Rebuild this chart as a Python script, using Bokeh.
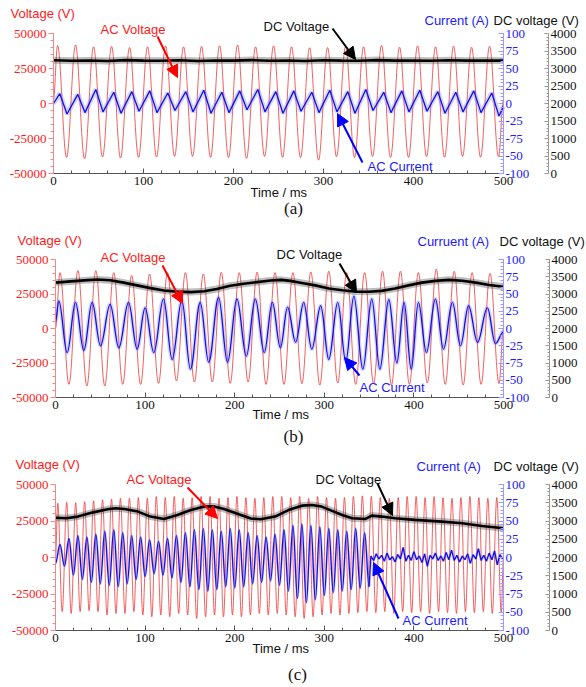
import numpy as np
from bokeh.plotting import figure
from bokeh.layouts import column
from bokeh.models import (Range1d, LinearAxis, SingleIntervalTicker,
                          Label, Arrow, NormalHead)
from bokeh.embed import file_html
from bokeh.resources import INLINE

# ------------------------------------------------------------------ data
# Tick positions / labels of the three vertical scales
volt_ticks = [-50000, -25000, 0, 25000, 50000]
volt_labels = ["-50000", "-25000", "0", "25000", "50000"]
cur_ticks = [-100, -75, -50, -25, 0, 25, 50, 75, 100]
cur_labels = ["-100", "-50", "-75", "-25", "0", "25", "50", "75", "100"]
dc_ticks = [0, 500, 1000, 1500, 2000, 2500, 3000, 3500, 4000]

# (a) AC voltage extrema (V), AC current extrema (A), DC link voltage (V)
a_v_pk_t = np.arange(4.5, 500, 20.0)
a_v_pk = [41400, 41800, 40500, 40800, 40000, 40500, 41200, 40500, 40800, 41200,
          41800, 40500, 41200, 40500, 39800, 40000, 40800, 40500, 41500, 40200,
          41200, 40500, 41000, 40200, 41000]
a_v_tr_t = np.arange(14.5, 500, 20.0)
a_v_tr = [-38500, -39500, -38200, -39000, -38500, -38300, -37800, -37800, -38500, -38600,
          -39200, -37800, -38500, -38700, -40500, -38000, -38600, -37900, -38500, -38600,
          -38000, -38400, -37900, -38400, -38000]
a_v_ends = [3000, 3000]
a_i_pk_t = np.arange(7.0, 500, 20.0)
a_i_pk = [14, 13, 20, 16, 17, 18, 15, 17, 19, 16, 18, 20, 17, 18, 16, 19, 17, 20, 16, 18,
          19, 17, 16, 18, 15]
a_i_tr_t = np.arange(15.0, 500, 20.0)
a_i_tr = [-15, -13, -12, -14, -11, -13, -10, -12, -14, -13, -9, -12, -14, -11, -13, -12,
          -14, -10, -13, -12, -11, -14, -12, -13, -18]
a_i_ends = [0, -4]
a_dc_t = np.arange(0, 501, 20.0)
a_dc = [3235, 3220, 3230, 3215, 3240, 3225, 3220, 3235, 3215, 3230, 3225, 3240, 3220,
        3230, 3215, 3235, 3225, 3220, 3240, 3225, 3230, 3220, 3235, 3225, 3230, 3225]

# (b)
b_v_pk_t = np.arange(5.0, 500, 20.0)
b_v_pk = [40500, 42000, 42000, 40500, 38500, 39500, 40500, 40500, 39500, 40800,
          40500, 40800, 40500, 40500, 41000, 41500, 40500, 40500, 41500, 41500,
          40500, 43000, 41500, 40500, 40000]
b_v_tr_t = np.arange(15.0, 500, 20.0)
b_v_tr = [-40500, -41700, -41700, -40500, -40500, -39800, -38000, -38800, -38800, -39800,
          -38800, -40500, -40500, -40000, -41000, -39500, -40500, -40000, -41000, -40500,
          -39500, -40500, -41000, -40500, -40000]
b_v_ends = [0, 0]
b_i_pk_t = [3.7, 22.3, 40.9, 61, 81.5, 100, 120.5, 141, 161.5, 182, 202.5, 223, 242,
            259, 277, 296, 315, 333, 353, 372, 389, 405, 424, 443, 461, 482]
b_i_pk = [40, 38, 38, 35, 38, 30, 43, 41, 38, 45, 43, 43, 38, 31, 38, 33, 38, 47, 43, 42,
          38, 38, 43, 38, 33, 30]
b_i_tr_t = [13, 31.6, 50.2, 70.7, 91.1, 109.7, 130.2, 150.6, 171, 192, 213, 233, 251,
            268, 286, 305, 324, 343, 362, 381, 397, 414, 433, 452, 471, 491]
b_i_tr = [-35, -32, -25, -28, -30, -35, -45, -59, -49, -49, -40, -35, -28, -20, -30, -45,
          -48, -59, -59, -50, -59, -35, -30, -25, -20, -22]
b_i_ends = [10, -5]
b_dc_t = [0, 17, 32, 47, 61, 76, 91, 106, 121, 136, 151, 166, 180, 195, 210, 225, 240,
          252, 262, 275, 290, 305, 320, 335, 350, 364, 379, 394, 409, 424, 439, 454, 469,
          484, 500]
b_dc = [3330, 3365, 3395, 3420, 3400, 3330, 3250, 3170, 3100, 3070, 3055, 3080, 3145,
        3240, 3295, 3345, 3390, 3410, 3380, 3320, 3250, 3160, 3110, 3070, 3065, 3090,
        3160, 3250, 3330, 3380, 3410, 3385, 3330, 3260, 3210]

# (c)
c_v_pk_t = np.arange(2.5, 500, 10.0)
c_v_pk = [37200, 37800, 37500, 38200, 38800, 39500, 40000, 40600, 40600, 41000,
          40600, 41800, 41000, 41800, 40600, 41000, 41800, 41800, 40600, 41000,
          41800, 41000, 40600, 41000, 41800, 41800, 41000, 41800, 40600, 41800,
          41000, 40600, 41000, 41800, 42200, 41800, 41000, 40600, 41000, 41800,
          41800, 41000, 41800, 41000, 40600, 41000, 41800, 41000, 40600, 41000]
c_v_tr_t = np.arange(7.5, 500, 10.0)
c_v_tr = [-37100, -38300, -37100, -36500, -37100, -39400, -38300, -38300, -37100, -39400,
          -40600, -39400, -40600, -38300, -39400, -41700, -40600, -39400, -40600, -39400,
          -40600, -39400, -38300, -39400, -38300, -39400, -40600, -41700, -40600, -39400,
          -38300, -39400, -38300, -37800, -37100, -37800, -37100, -38300, -37100, -37800,
          -37100, -38300, -37100, -37800, -38300, -37100, -37800, -37100, -38300, -37800]
c_v_ends = [0, 0]
c_i_pk_t = np.arange(5.0, 350, 10.0)
c_i_pk = [18, 26, 30, 28, 32, 36, 38, 34, 30, 28, 24, 22, 26, 30, 34, 38, 40, 38, 36, 40,
          38, 34, 30, 28, 32, 38, 44, 46, 44, 42, 40, 38, 36, 40, 34]
c_i_tr_t = np.arange(10.0, 351, 10.0)
c_i_tr = [-12, -24, -30, -34, -36, -38, -40, -36, -30, -26, -22, -24, -28, -34, -40, -44,
          -46, -44, -40, -42, -40, -36, -34, -32, -38, -46, -56, -62, -58, -52, -48, -46,
          -44, -42, -40]
c_i_ends = [-8, 0]
c_i_off_t = np.arange(352, 500, 3.0)
c_i_off = [2, -4, 5, -2, 3, -5, 6, -3, 1, -6, 4, -2, 14, -5, 3, -4, 8, -3, 2, -7, 5, -12,
           3, -2, 6, -4, 2, -5, 7, -3, 10, -4, 3, -6, 2, -3, 5, -8, 4, -2, 12, -4, 3, -5,
           6, -3, 9, -10, 4, -2]
c_dc_t = [0, 12, 25, 41, 58, 67, 77, 92, 106, 121, 136, 151, 166, 177, 188, 203, 218,
          229, 245, 260, 275, 286, 297, 308, 320, 331, 346, 353, 364, 379, 401, 431, 454,
          476, 500]
c_dc = [3090, 3075, 3120, 3230, 3320, 3350, 3330, 3258, 3121, 3056, 3166, 3303, 3395,
        3400, 3330, 3200, 3070, 3047, 3121, 3300, 3420, 3440, 3395, 3285, 3166, 3075,
        3056, 3148, 3121, 3075, 3030, 2984, 2938, 2865, 2801]

# ------------------------------------------------------------------ style
RED, BLUE, BLACK = "#ff1a1a", "#1a1aff", "#111111"
SANS, SERIF = "Liberation Sans", "Liberation Serif"
TICK_FS = "13px"
TEXT_PX = 13
CAP_PX = 17
WIDTH = 586


class Geo:
    """Pixel geometry of one panel: canvas height and where the scales sit."""

    def __init__(self, h, left, right, top, bottom, dc_x):
        self.h, self.left, self.right, self.top, self.bottom, self.dc_x = \
            h, left, right, top, bottom, dc_x

    def t(self, px):
        return (px - self.left) * 500.0 / (self.right - self.left)

    def frac(self, py):
        return (py - self.top) / (self.bottom - self.top)

    def v(self, py):
        return 50000 - self.frac(py) * 100000

    def i(self, py):
        return 100 - self.frac(py) * 200

    def dc(self, py):
        return 4000 - self.frac(py) * 4000


def wave_nodes(t_pk, v_pk, t_tr, v_tr, ends):
    t = np.concatenate([[0.0], np.asarray(t_pk, float), np.asarray(t_tr, float), [500.0]])
    v = np.concatenate([[ends[0]], np.asarray(v_pk, float), np.asarray(v_tr, float), [ends[1]]])
    o = np.argsort(t, kind="stable")
    return t[o], v[o]


def smooth_curve(p, t, v, **kw):
    # cubic segments with flat tangents at every extremum (sine-like arcs)
    k = (np.pi - 2) / np.pi
    x0, x1, y0, y1 = t[:-1], t[1:], v[:-1], v[1:]
    d = x1 - x0
    p.bezier(x0=x0, y0=y0, x1=x1, y1=y1, cx0=x0 + k * d, cy0=y0,
             cx1=x1 - k * d, cy1=y1, **kw)


def style_ticks(ax, color, label_color, t_in, t_out, m_in, m_out, standoff=2):
    ax.axis_line_color = color
    ax.major_tick_line_color = color
    ax.minor_tick_line_color = color
    ax.major_tick_in, ax.major_tick_out = t_in, t_out
    ax.minor_tick_in, ax.minor_tick_out = m_in, m_out
    ax.major_label_standoff = standoff
    ax.major_label_text_font = SERIF
    ax.major_label_text_font_size = TICK_FS
    ax.major_label_text_color = label_color


def make_panel(g):
    # the frame fills the whole canvas; the scales are pinned at data positions
    p = figure(width=WIDTH, height=g.h,
               x_range=Range1d(g.t(0), g.t(WIDTH)),
               y_range=Range1d(g.v(g.h), g.v(0)),
               x_axis_type=None, y_axis_type=None,
               output_backend="svg", toolbar_location=None, frame_align=False,
               min_border=0, outline_line_color=None,
               background_fill_color="white", border_fill_color="white")
    p.extra_y_ranges = {"cur": Range1d(g.i(g.h), g.i(0)),
                        "dc": Range1d(g.dc(g.h), g.dc(0))}
    p.xgrid.visible = False
    p.ygrid.visible = False

    xa = LinearAxis(fixed_location=-50000, bounds=(0, 500),
                    ticker=SingleIntervalTicker(interval=100, num_minor_ticks=5))
    style_ticks(xa, "#555555", BLACK, 5, 0, 3, 0, standoff=3)
    p.add_layout(xa, "below")

    ya = LinearAxis(fixed_location=0, bounds=(-50000, 50000),
                    ticker=SingleIntervalTicker(interval=25000, num_minor_ticks=5))
    ya.major_label_overrides = dict(zip(volt_ticks, volt_labels))
    style_ticks(ya, "#f08a8a", RED, 0, 5, 0, 3)
    p.add_layout(ya, "left")

    ca = LinearAxis(y_range_name="cur", fixed_location=500, bounds=(-100, 100),
                    ticker=SingleIntervalTicker(interval=25, num_minor_ticks=5))
    ca.major_label_overrides = dict(zip(cur_ticks, cur_labels))
    style_ticks(ca, "#9a9aff", BLUE, 5, 0, 3, 0)
    p.add_layout(ca, "right")

    da = LinearAxis(y_range_name="dc", fixed_location=g.t(g.dc_x), bounds=(0, 4000),
                    ticker=SingleIntervalTicker(interval=500, num_minor_ticks=5))
    da.major_label_overrides = {t: str(t) for t in dc_ticks}
    style_ticks(da, "#999999", BLACK, 4, 0, 2, 0)
    p.add_layout(da, "right")
    return p


def draw_voltage(p, t, v):
    smooth_curve(p, t, v, line_color="#ee2a2a", line_alpha=0.75, line_width=1)


def draw_current(p, t, v, smooth, halo=4):
    if smooth:
        smooth_curve(p, t, v, line_color="#7070ff", line_alpha=0.3, line_width=halo,
                     y_range_name="cur")
        smooth_curve(p, t, v, line_color="#1010e0", line_width=1.3, y_range_name="cur")
    else:
        p.line(t, v, line_color="#7070ff", line_alpha=0.3, line_width=halo,
               y_range_name="cur")
        p.line(t, v, line_color="#1010e0", line_width=1.3, y_range_name="cur")


def draw_dc(p, t, v):
    p.line(t, v, line_color="#444444", line_alpha=0.35, line_width=7, y_range_name="dc")
    p.line(t, v, line_color="#000000", line_width=2.6, y_range_name="dc")


def text(p, g, px, base_py, s, color, font=SANS, size=TEXT_PX, align="left"):
    # base_py is the baseline in canvas pixels; the label is centred on its font box
    p.add_layout(Label(x=g.t(px), y=g.v(base_py - 0.35 * size), text=s,
                       text_color=color, text_font=font,
                       text_font_size=f"{size}px", text_align=align,
                       text_baseline="middle"))


def pointer(p, g, px0, py0, px1, py1, color):
    p.add_layout(Arrow(end=NormalHead(size=12, fill_color=color, line_color=color),
                       x_start=g.t(px0), y_start=g.v(py0),
                       x_end=g.t(px1), y_end=g.v(py1),
                       line_color=color, line_width=2))


def annotate(p, g, heads, callouts, arrows, time_x, time_y, cap, cap_x, cap_y):
    for px, py, s, c in heads:
        text(p, g, px, py, s, c)
    for px, py, s, c in callouts:
        text(p, g, px, py, s, c)
    for (px0, py0, px1, py1), c in zip(arrows, ["#ff0000", "#000000", "#0000ff"]):
        pointer(p, g, px0, py0, px1, py1, c)
    text(p, g, time_x, time_y, "Time / ms", BLACK)
    text(p, g, cap_x, cap_y, cap, BLACK, font=SERIF, size=CAP_PX, align="center")


# ------------------------------------------------------------------ (a)
ga = Geo(226, 53, 503, 33, 173, 548)
pa = make_panel(ga)
draw_voltage(pa, *wave_nodes(a_v_pk_t, a_v_pk, a_v_tr_t, a_v_tr, a_v_ends))
draw_current(pa, *wave_nodes(a_i_pk_t, a_i_pk, a_i_tr_t, a_i_tr, a_i_ends), smooth=False,
             halo=5)
draw_dc(pa, a_dc_t, a_dc)
annotate(pa, ga,
         [(10, 18, "Voltage (V)", RED), (424, 25, "Current (A)", BLUE),
          (493, 25, "DC voltage (V)", BLACK)],
         [(100, 34, "AC Voltage", RED), (263, 31, "DC Voltage", BLACK),
          (367, 171, "AC Current", BLUE)],
         [(157, 36, 177, 77), (332, 28, 355, 59), (362, 162, 337, 113)],
         250, 197, "(a)", 293, 214)

# ------------------------------------------------------------------ (b)
gb = Geo(226, 55, 503, 33, 171, 549)
pb = make_panel(gb)
draw_voltage(pb, *wave_nodes(b_v_pk_t, b_v_pk, b_v_tr_t, b_v_tr, b_v_ends))
draw_current(pb, *wave_nodes(b_i_pk_t, b_i_pk, b_i_tr_t, b_i_tr, b_i_ends), smooth=True)
draw_dc(pb, b_dc_t, b_dc)
annotate(pb, gb,
         [(17, 19, "Voltage (V)", RED), (417, 20, "Curruent (A)", BLUE),
          (499, 20, "DC voltage (V)", BLACK)],
         [(100, 36, "AC Voltage", RED), (276, 33, "DC Voltage", BLACK),
          (359, 166, "AC Current", BLUE)],
         [(162, 39, 182, 77), (339, 37, 356, 66), (359, 149, 344, 131)],
         252, 193, "(b)", 293, 216)

# ------------------------------------------------------------------ (c)
gc = Geo(235, 55, 503, 32, 178, 549)
pc = make_panel(gc)
draw_voltage(pc, *wave_nodes(c_v_pk_t, c_v_pk, c_v_tr_t, c_v_tr, c_v_ends))
ct, cv = wave_nodes(c_i_pk_t, c_i_pk, c_i_tr_t, c_i_tr, c_i_ends)
keep = ct <= 350
draw_current(pc, ct[keep], cv[keep], smooth=True, halo=2.5)
draw_current(pc, np.concatenate([[350.0], c_i_off_t]),
             np.concatenate([[c_i_tr[-1]], c_i_off]), smooth=False, halo=3)
draw_dc(pc, c_dc_t, c_dc)
annotate(pc, gc,
         [(15, 17, "Voltage (V)", RED), (416, 19, "Current (A)", BLUE),
          (493, 19, "DC voltage (V)", BLACK)],
         [(126, 32, "AC Voltage", RED), (315, 32, "DC Voltage", BLACK),
          (402, 173, "AC Current", BLUE)],
         [(187, 35, 217, 66), (377, 31, 392, 63), (398, 166, 373, 110)],
         252, 201, "(c)", 297, 228)

layout = column(pa, pb, pc, spacing=0)
open("out.html", "w").write(file_html(layout, INLINE))
